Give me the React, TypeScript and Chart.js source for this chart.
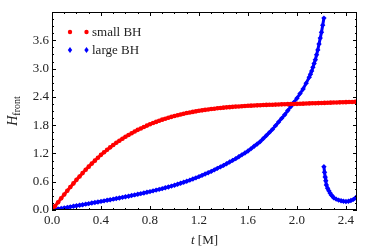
import { useEffect, useRef } from 'react';
import { Chart, registerables } from 'chart.js';
Chart.register(...registerables);

// small BH
const smallT = [0, 0.025, 0.05, 0.075, 0.1, 0.125, 0.15, 0.175, 0.2, 0.225, 0.25, 0.275, 0.3, 0.325, 0.35, 0.375, 0.4, 0.425, 0.45, 0.475, 0.5, 0.525, 0.55, 0.575, 0.6, 0.625, 0.65, 0.675, 0.7, 0.725, 0.75, 0.775, 0.8, 0.825, 0.85, 0.875, 0.9, 0.925, 0.95, 0.975, 1.0, 1.025, 1.05, 1.075, 1.1, 1.125, 1.15, 1.175, 1.2, 1.225, 1.25, 1.275, 1.3, 1.325, 1.35, 1.375, 1.4, 1.425, 1.45, 1.475, 1.5, 1.525, 1.55, 1.575, 1.6, 1.625, 1.65, 1.675, 1.7, 1.725, 1.75, 1.775, 1.8, 1.825, 1.85, 1.875, 1.9, 1.925, 1.95, 1.975, 2.0, 2.025, 2.05, 2.075, 2.1, 2.125, 2.15, 2.175, 2.2, 2.225, 2.25, 2.275, 2.3, 2.325, 2.35, 2.375, 2.4, 2.425, 2.45, 2.475, 2.49];
const smallH = [0.0, 0.083, 0.165, 0.248, 0.33, 0.409, 0.487, 0.564, 0.64, 0.712, 0.783, 0.853, 0.92, 0.984, 1.047, 1.109, 1.17, 1.224, 1.277, 1.329, 1.38, 1.425, 1.469, 1.512, 1.555, 1.592, 1.628, 1.664, 1.7, 1.73, 1.76, 1.79, 1.82, 1.844, 1.869, 1.893, 1.917, 1.937, 1.956, 1.976, 1.995, 2.01, 2.026, 2.041, 2.057, 2.069, 2.081, 2.093, 2.105, 2.114, 2.124, 2.133, 2.142, 2.149, 2.157, 2.164, 2.171, 2.177, 2.182, 2.188, 2.193, 2.197, 2.202, 2.206, 2.21, 2.213, 2.217, 2.22, 2.223, 2.226, 2.229, 2.231, 2.234, 2.236, 2.239, 2.241, 2.243, 2.245, 2.248, 2.25, 2.252, 2.254, 2.256, 2.259, 2.261, 2.263, 2.265, 2.268, 2.27, 2.272, 2.274, 2.277, 2.279, 2.281, 2.283, 2.286, 2.288, 2.29, 2.292, 2.295, 2.296];

// large BH, first branch
const largeT1 = [0, 0.025, 0.05, 0.075, 0.1, 0.125, 0.15, 0.175, 0.2, 0.225, 0.25, 0.275, 0.3, 0.325, 0.35, 0.375, 0.4, 0.425, 0.45, 0.475, 0.5, 0.525, 0.55, 0.575, 0.6, 0.625, 0.65, 0.675, 0.7, 0.725, 0.75, 0.775, 0.8, 0.825, 0.85, 0.875, 0.9, 0.925, 0.95, 0.975, 1.0, 1.025, 1.05, 1.075, 1.1, 1.125, 1.15, 1.175, 1.2, 1.225, 1.25, 1.275, 1.3, 1.325, 1.35, 1.375, 1.4, 1.425, 1.45, 1.475, 1.5, 1.525, 1.55, 1.575, 1.6, 1.625, 1.65, 1.675, 1.7, 1.725, 1.75, 1.775, 1.8, 1.825, 1.85, 1.875, 1.9, 1.925, 1.95, 1.975, 2.0, 2.025, 2.05, 2.075, 2.1, 2.11, 2.12, 2.13, 2.14, 2.15, 2.16, 2.17, 2.18, 2.19, 2.2, 2.21, 2.22];
const largeH1 = [0.0, 0.011, 0.022, 0.033, 0.044, 0.055, 0.067, 0.078, 0.089, 0.101, 0.112, 0.124, 0.135, 0.147, 0.159, 0.17, 0.182, 0.194, 0.206, 0.218, 0.23, 0.243, 0.255, 0.268, 0.28, 0.293, 0.307, 0.32, 0.333, 0.347, 0.362, 0.376, 0.39, 0.406, 0.422, 0.437, 0.453, 0.471, 0.489, 0.507, 0.525, 0.546, 0.567, 0.588, 0.609, 0.633, 0.658, 0.682, 0.707, 0.735, 0.763, 0.791, 0.819, 0.851, 0.883, 0.914, 0.946, 0.982, 1.018, 1.053, 1.089, 1.129, 1.17, 1.21, 1.251, 1.301, 1.351, 1.401, 1.451, 1.516, 1.581, 1.646, 1.711, 1.789, 1.866, 1.944, 2.021, 2.109, 2.196, 2.284, 2.371, 2.469, 2.566, 2.691, 2.816, 2.881, 2.946, 3.026, 3.106, 3.186, 3.291, 3.396, 3.521, 3.646, 3.771, 3.921, 4.071];

// large BH, second branch
const largeT2 = [2.22, 2.225, 2.23, 2.235, 2.24, 2.25, 2.26, 2.27, 2.28, 2.29, 2.3, 2.32, 2.34, 2.36, 2.38, 2.4, 2.42, 2.44, 2.46, 2.48, 2.49];
const largeH2 = [0.92, 0.8, 0.7, 0.62, 0.53, 0.46, 0.41, 0.36, 0.32, 0.29, 0.26, 0.23, 0.21, 0.195, 0.185, 0.18, 0.185, 0.2, 0.225, 0.26, 0.28];

const xTicks = [0, 0.4, 0.8, 1.2, 1.6, 2.0, 2.4];
const yTicks = [0, 0.6, 1.2, 1.8, 2.4, 3.0, 3.6];
const legendLabels = ['small BH', 'large BH'];
const xTitleItalic = 't';
const xTitleRest = ' [M]';
const yTitleMain = 'H';
const yTitleSub = 'front';

const X_MIN = 0, X_MAX = 2.49, Y_MIN = 0, Y_MAX = 4.2;
const SERIF = '"Liberation Serif", "DejaVu Serif", serif';
const RED = '#ff0000';
const BLUE = '#0000ff';

const decorPlugin = {
  id: 'decor',
  afterDraw(chart: any) {
    const { ctx, chartArea, scales } = chart;
    const { left, right, top, bottom } = chartArea;
    const xs = scales.x, ys = scales.y;
    ctx.save();
    ctx.strokeStyle = '#000';
    ctx.lineWidth = 1;
    ctx.strokeRect(left + 0.5, top + 0.5, right - left - 1, bottom - top - 1);
    ctx.beginPath();
    const major = 4, minor = 2;
    for (let i = 0; i * 0.1 <= X_MAX + 1e-9; i++) {
      const px = Math.round(xs.getPixelForValue(i * 0.1)) + 0.5;
      const len = i % 4 === 0 ? major : minor;
      ctx.moveTo(px, bottom); ctx.lineTo(px, bottom - len);
      ctx.moveTo(px, top); ctx.lineTo(px, top + len);
    }
    for (let i = 0; i * 0.15 <= Y_MAX + 1e-9; i++) {
      const py = Math.round(ys.getPixelForValue(i * 0.15)) + 0.5;
      const len = i % 4 === 0 ? major : minor;
      ctx.moveTo(left, py); ctx.lineTo(left + len, py);
      ctx.moveTo(right, py); ctx.lineTo(right - len, py);
    }
    ctx.stroke();

    // legend
    const lx1 = 70, lx2 = 86.5, ltx = 92;
    const rows = [32, 50];
    ctx.fillStyle = RED;
    for (const x of [lx1, lx2]) {
      ctx.beginPath(); ctx.arc(x, rows[0], 2.2, 0, Math.PI * 2); ctx.fill();
    }
    ctx.fillStyle = BLUE;
    for (const x of [lx1, lx2]) {
      ctx.beginPath();
      ctx.moveTo(x, rows[1] - 3); ctx.lineTo(x + 2.2, rows[1]);
      ctx.lineTo(x, rows[1] + 3); ctx.lineTo(x - 2.2, rows[1]);
      ctx.closePath(); ctx.fill();
    }
    ctx.fillStyle = '#222';
    ctx.font = `13px ${SERIF}`;
    ctx.textBaseline = 'middle';
    ctx.textAlign = 'left';
    ctx.fillText(legendLabels[0], ltx, rows[0] + 0.5);
    ctx.fillText(legendLabels[1], ltx, rows[1] + 0.5);

    // x title
    ctx.textBaseline = 'alphabetic';
    ctx.font = `italic 13px ${SERIF}`;
    const wt = ctx.measureText(xTitleItalic).width;
    ctx.font = `13px ${SERIF}`;
    const wr = ctx.measureText(xTitleRest).width;
    const cx = (left + right) / 2;
    const sx = cx - (wt + wr) / 2;
    ctx.font = `italic 13px ${SERIF}`;
    ctx.fillText(xTitleItalic, sx, 244);
    ctx.font = `13px ${SERIF}`;
    ctx.fillText(xTitleRest, sx + wt, 244);

    // y title
    ctx.save();
    ctx.translate(17, (top + bottom) / 2);
    ctx.rotate(-Math.PI / 2);
    ctx.font = `italic 14px ${SERIF}`;
    const wh = ctx.measureText(yTitleMain).width;
    ctx.font = `10px ${SERIF}`;
    const wf = ctx.measureText(yTitleSub).width;
    const sy = -(wh + wf) / 2;
    ctx.font = `italic 14px ${SERIF}`;
    ctx.fillText(yTitleMain, sy, 0);
    ctx.font = `10px ${SERIF}`;
    ctx.fillText(yTitleSub, sy + wh, 3);
    ctx.restore();

    ctx.restore();
  },
};

export default function App() {
  const ref = useRef<HTMLCanvasElement>(null);
  useEffect(() => {
    if (!ref.current) return;
    const small = smallT.map((t, i) => ({ x: t, y: smallH[i] }));
    const large1 = largeT1.map((t, i) => ({ x: t, y: largeH1[i] }));
    const large2 = largeT2.map((t, i) => ({ x: t, y: largeH2[i] }));
    const common = { showLine: true, borderWidth: 3, pointBorderWidth: 0 };
    const chart = new Chart(ref.current, {
      type: 'scatter',
      data: {
        datasets: [
          {
            ...common, label: legendLabels[0], data: small, pointStyle: 'circle', pointRadius: 2.3,
            backgroundColor: RED, borderColor: RED, pointBackgroundColor: RED,
          },
          {
            ...common, label: legendLabels[1], data: large1, pointStyle: 'rectRot', pointRadius: 2.7,
            backgroundColor: BLUE, borderColor: BLUE, pointBackgroundColor: BLUE,
          },
          {
            ...common, label: legendLabels[1], data: large2, pointStyle: 'rectRot', pointRadius: 2.7,
            backgroundColor: BLUE, borderColor: BLUE, pointBackgroundColor: BLUE,
          },
        ],
      },
      options: {
        animation: false,
        responsive: true,
        maintainAspectRatio: false,
        layout: { padding: { top: 12, right: 17, left: 0, bottom: 0 } },
        plugins: { legend: { display: false }, tooltip: { enabled: false } },
        scales: {
          x: {
            type: 'linear', min: X_MIN, max: X_MAX,
            afterFit: (s: any) => { s.height = 39; },
            grid: { display: false, drawTicks: false },
            border: { display: false },
            afterBuildTicks: (s: any) => { s.ticks = xTicks.map((v) => ({ value: v })); },
            ticks: {
              padding: 3, color: '#222', maxRotation: 0,
              font: { family: SERIF, size: 13 },
              callback: (v: any) => Number(v).toFixed(1),
            },
          },
          y: {
            type: 'linear', min: Y_MIN, max: Y_MAX,
            afterFit: (s: any) => { s.width = 52; },
            grid: { display: false, drawTicks: false },
            border: { display: false },
            afterBuildTicks: (s: any) => { s.ticks = yTicks.map((v) => ({ value: v })); },
            ticks: {
              padding: 3, color: '#222',
              font: { family: SERIF, size: 13 },
              callback: (v: any) => Number(v).toFixed(1),
            },
          },
        },
      },
      plugins: [decorPlugin],
    });
    return () => chart.destroy();
  }, []);
  return (
    <div style={{ position: 'absolute', left: 0, top: 0, width: 374, height: 249, background: '#fff' }}>
      <canvas ref={ref} />
    </div>
  );
}
